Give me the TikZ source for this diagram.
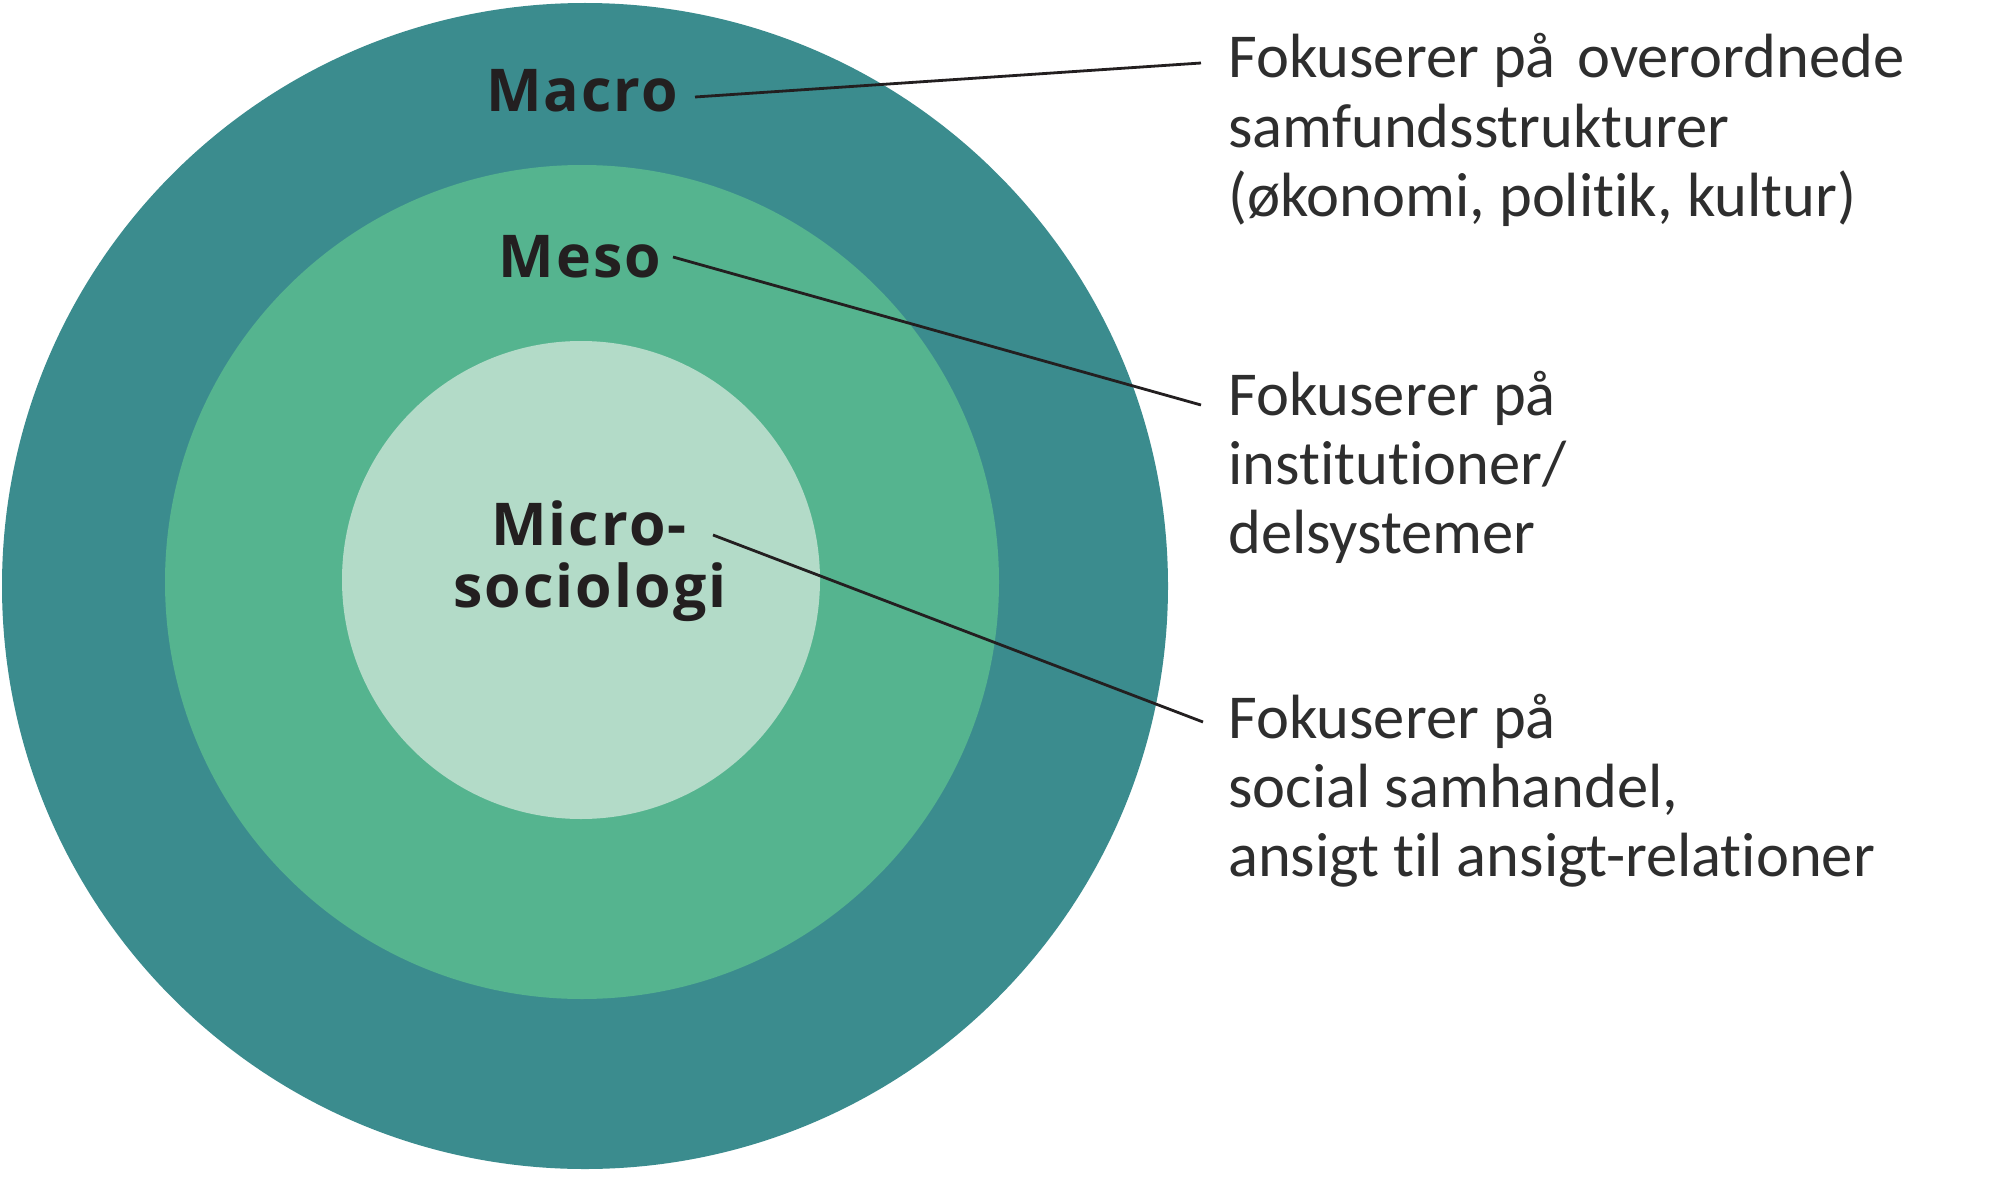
\documentclass[tikz,border=0pt]{standalone}
\usepackage{fontspec}
\setmainfont[Ligatures=NoCommon]{Carlito}
\newfontfamily\labelfont[LetterSpace=3.5]{Open Sans}
\definecolor{outerteal}{HTML}{3B8C8E}
\definecolor{midgreen}{HTML}{55B48F}
\definecolor{innergreen}{HTML}{B3DBC8}
\definecolor{inktext}{HTML}{231F20}
\definecolor{greytext}{HTML}{2E2E2E}
\tikzset{
  ring/.style={circle, inner sep=0pt, outer sep=0pt, draw=none},
  lvl/.style={inner sep=0pt, anchor=base, text=inktext, font=\labelfont\bfseries\fontsize{59}{62}\selectfont},
  desc/.style={inner sep=0pt, anchor=base west, text=greytext, font=\fontsize{62.5}{69}\selectfont},
  leader/.style={draw=inktext, line width=2.8pt}
}
\begin{document}
\begin{tikzpicture}[x=1pt,y=-1pt]
\useasboundingbox (0,0) rectangle (2000,1204);
\fill[white] (0,0) rectangle (2000,1204);
% rings
\node[ring, fill=outerteal, minimum size=1166pt] (outer) at (585,586) {};
\node[ring, fill=midgreen, minimum size=834pt] (middle) at (582,582) {};
\node[ring, fill=innergreen, minimum size=478pt] (inner) at (581,580) {};
% level labels
\node[lvl] (macro) at (582,112) {Macro};
\node[lvl] (meso) at (580,277) {Meso};
\node[lvl] (micro1) at (589,545) {Micro-};
\node[lvl] (micro2) at (590,607) {sociologi};
% descriptions
\node[desc] (a1) at (1228,78) {Fokuserer på\hspace{0.12em} overordnede};
\node[desc] (a2) at (1228,147) {samfundsstrukturer};
\node[desc] (a3) at (1228,216) {(økonomi, politik, kultur)};
\node[desc] (b1) at (1228,415) {Fokuserer på};
\node[desc] (b2) at (1228,484) {institutioner/};
\node[desc] (b3) at (1228,553) {delsystemer};
\node[desc] (c1) at (1228,738) {Fokuserer på};
\node[desc] (c2) at (1228,807) {social samhandel,};
\node[desc] (c3) at (1228,876) {ansigt til ansigt-relationer};
% leader end points
\coordinate (macroS) at (695,97);
\coordinate (macroE) at (1201,63);
\coordinate (mesoS) at (673,257);
\coordinate (mesoE) at (1201,405);
\coordinate (microS) at (713,535);
\coordinate (microE) at (1203,722);
\draw[leader] (macroS) -- (macroE);
\draw[leader] (mesoS) -- (mesoE);
\draw[leader] (microS) -- (microE);
\end{tikzpicture}
\end{document}
